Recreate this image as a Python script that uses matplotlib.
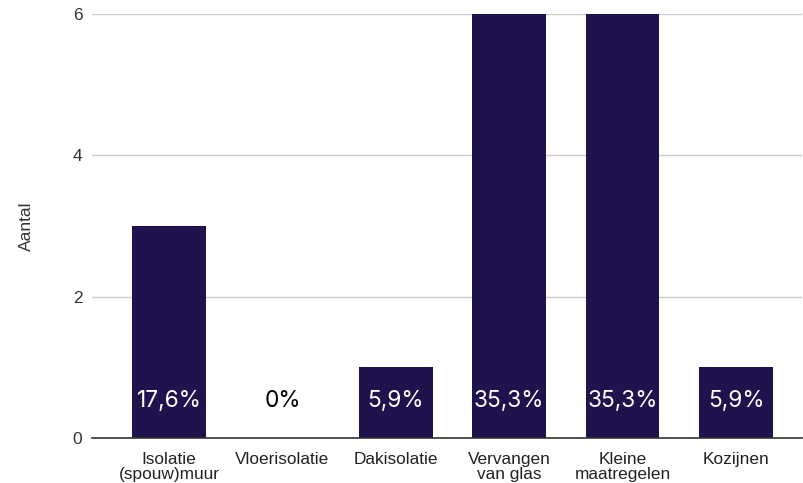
import matplotlib.pyplot as plt

categories = ['Isolatie\n(spouw)muur', 'Vloerisolatie', 'Dakisolatie',
              'Vervangen\nvan glas', 'Kleine\nmaatregelen', 'Kozijnen']
counts = [3, 0, 1, 6, 6, 1]
pct_labels = ['17,6%', '0%', '5,9%', '35,3%', '35,3%', '5,9%']

bar_color = '#20124d'

fig = plt.figure(figsize=(8.04, 4.83), dpi=100)
ax = fig.add_axes([92 / 804, 1 - 438 / 483, 710 / 804, 424 / 483])

x = list(range(len(categories)))
ax.bar(x, counts, width=0.65, color=bar_color, zorder=3)

for xi, c, lab in zip(x, counts, pct_labels):
    col = 'white' if c > 0.6 else 'black'
    ax.text(xi, 0.52, lab, ha='center', va='center', fontsize=16.3,
            color=col, family='Inter', zorder=4)

ax.set_xlim(-0.679, 5.582)
ax.set_ylim(0, 6)
ax.set_yticks([0, 2, 4, 6])
ax.set_xticks(x)
ax.set_xticklabels(categories, fontsize=12.4, family='Liberation Sans', linespacing=0.98)
ax.tick_params(axis='y', length=0, pad=7, labelsize=12.5, labelcolor='#333333')
ax.tick_params(axis='x', length=0, pad=10, labelcolor='#222222')
for lab in ax.get_yticklabels():
    lab.set_family('Liberation Sans')

ax.grid(axis='y', color='#cccccc', linewidth=1, zorder=0)
for s in ['top', 'right', 'left']:
    ax.spines[s].set_visible(False)
ax.spines['bottom'].set_color('#333333')
ax.spines['bottom'].set_linewidth(1.2)
ax.spines['bottom'].set_zorder(5)

ax.set_ylabel('Aantal', fontsize=12.5, family='Liberation Sans', color='#333333', labelpad=28)

fig.savefig('out.png', dpi=100)
